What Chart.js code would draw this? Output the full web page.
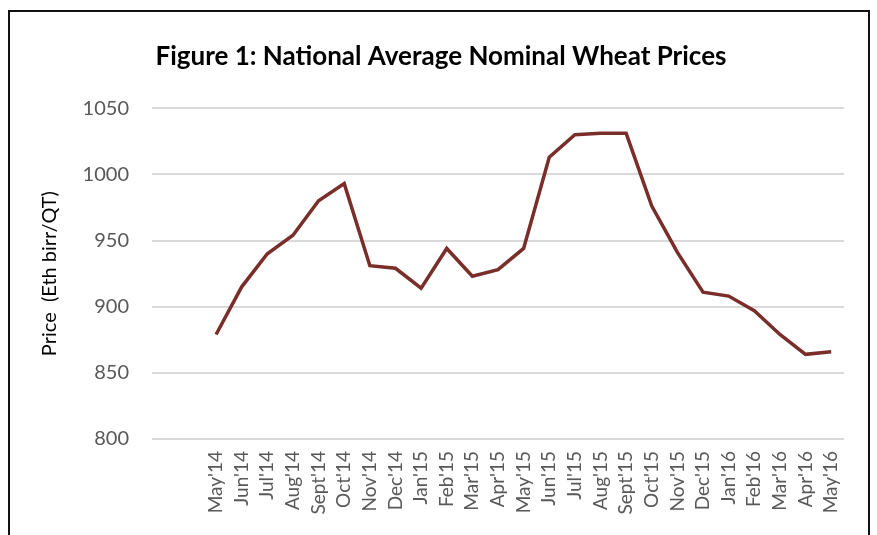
<!DOCTYPE html>
<html>
<head>
<meta charset="utf-8">
<script src="https://cdn.jsdelivr.net/npm/chart.js@4.4.1/dist/chart.umd.min.js"></script>
<style>
  html, body { margin: 0; padding: 0; background: #fff; overflow: hidden; }
  #wrap { position: relative; width: 877px; height: 535px; }
  #frame { position: absolute; left: 8px; top: 10px; width: 862px; height: 560px; border: 2px solid #111; box-sizing: border-box; }
  canvas { position: absolute; left: 0; top: 0; }
</style>
</head>
<body>
<div id="wrap">
  <div id="frame"></div>
  <canvas id="wheatChart" width="877" height="535"></canvas>
</div>
<script>
// two empty slots at the start, as in the original Excel chart
const months = ['', '', "May'14", "Jun'14", "Jul'14", "Aug'14", "Sept'14", "Oct'14", "Nov'14", "Dec'14",
  "Jan'15", "Feb'15", "Mar'15", "Apr'15", "May'15", "Jun'15", "Jul'15", "Aug'15", "Sept'15",
  "Oct'15", "Nov'15", "Dec'15", "Jan'16", "Feb'16", "Mar'16", "Apr'16", "May'16"];
const prices = [null, null, 879, 915, 940, 954, 980, 993, 931, 929,
  914, 944, 923, 928, 944, 1013, 1030, 1031, 1031,
  976, 941, 911, 908, 897, 879, 864, 866];
const yMin = 800, yMax = 1050, yStep = 50;

const ctx = document.getElementById('wheatChart');

new Chart(ctx, {
  type: 'line',
  data: {
    labels: months,
    datasets: [{
      label: 'Price',
      data: prices,
      borderColor: '#7a2e2a',
      borderWidth: 3.5,
      pointRadius: 0,
      tension: 0,
      fill: false
    }]
  },
  options: {
    responsive: false,
    animation: false,
    layout: { padding: { left: 38, right: 33, top: 0, bottom: 0 } },
    plugins: {
      legend: { display: false },
      tooltip: { enabled: false },
      title: {
        display: true,
        text: 'Figure 1: National Average Nominal Wheat Prices',
        color: '#000',
        font: { family: 'Lato', size: 26, weight: 'bold' },
        padding: { top: 41, bottom: 36 }
      }
    },
    scales: {
      x: {
        offset: true,
        grid: { display: false, drawTicks: false },
        border: { display: false },
        ticks: {
          autoSkip: false,
          minRotation: 90,
          maxRotation: 90,
          padding: 12,
          color: '#595959',
          font: { family: 'Lato', size: 19 }
        },
        afterFit: (scale) => { scale.height = 96; }
      },
      y: {
        min: yMin,
        max: yMax,
        grid: { color: '#d9d9d9', lineWidth: 2, drawTicks: false },
        border: { display: false },
        ticks: {
          stepSize: yStep,
          padding: 23,
          color: '#595959',
          font: { family: 'Lato', size: 20 },
          callback: (v) => String(v)
        },
        title: {
          display: true,
          text: 'Price  (Eth birr/QT)',
          color: '#000',
          font: { family: 'Lato', size: 20 },
          padding: { top: 0, bottom: 0 }
        },
        afterFit: (scale) => { scale.width = 114; }
      }
    }
  }
});
</script>
</body>
</html>
